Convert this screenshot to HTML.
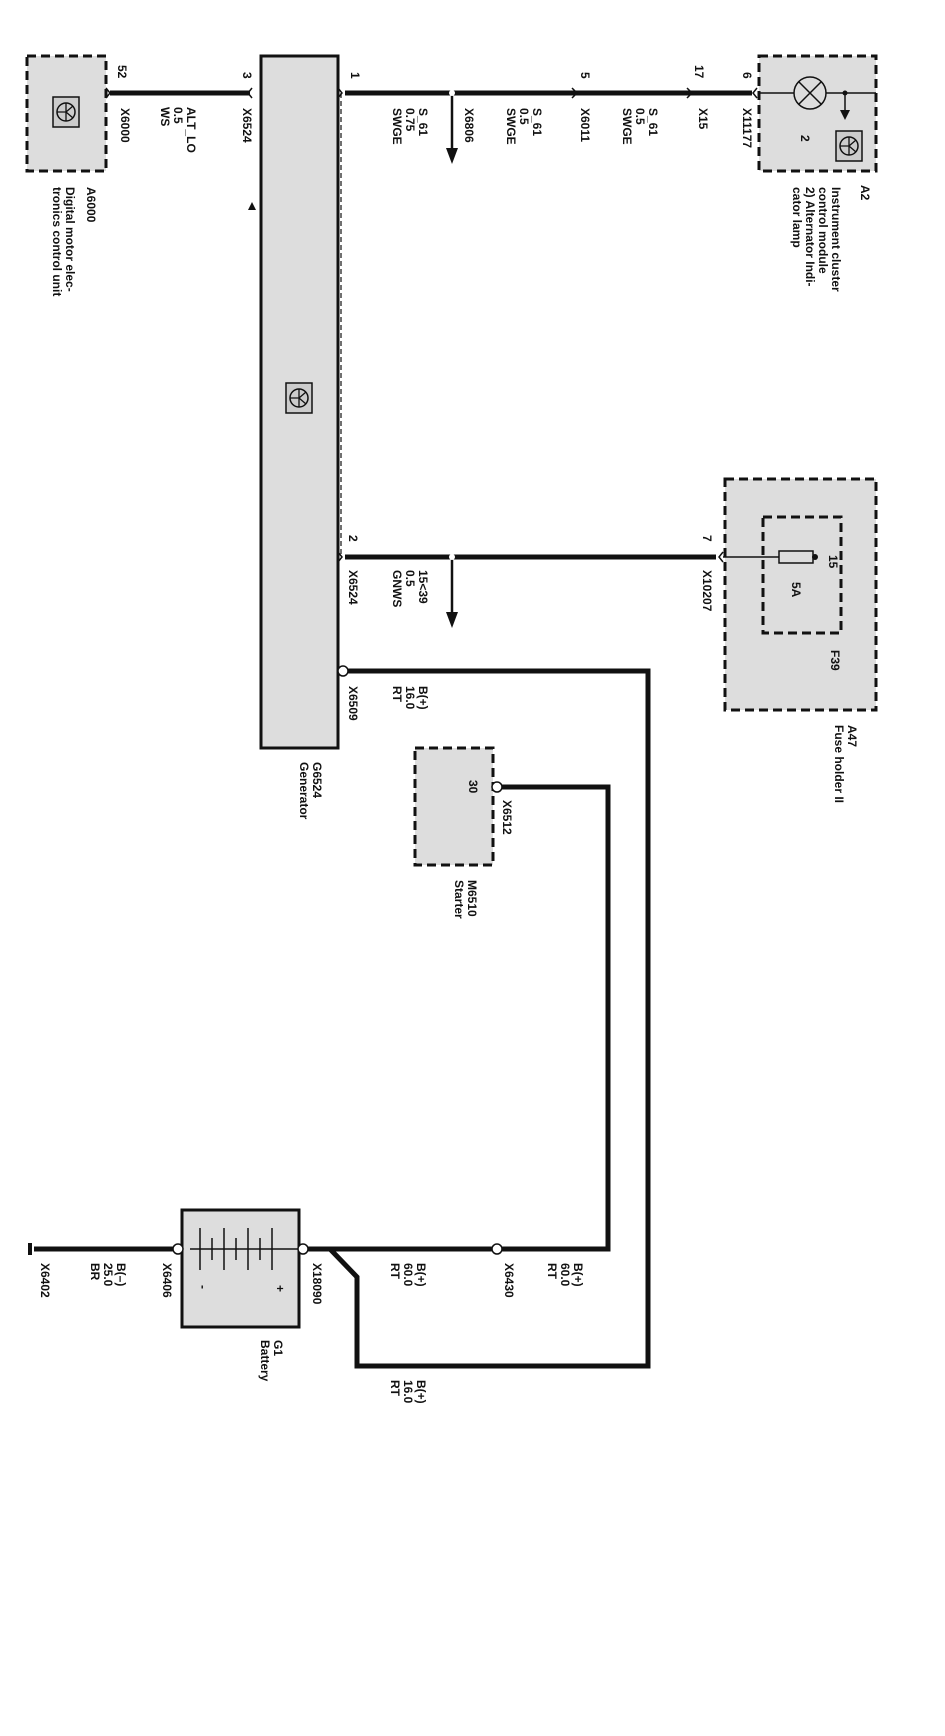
<!DOCTYPE html>
<html><head><meta charset="utf-8"><style>
html,body{margin:0;padding:0;background:#fff}
#c{position:relative;width:945px;height:1736px;overflow:hidden;font-family:"Liberation Sans",Arial,sans-serif;}
.t{position:absolute;writing-mode:vertical-rl;font-size:12px;font-weight:bold;line-height:13px;color:#111;white-space:nowrap}
.n{font-weight:bold}
svg{position:absolute;left:0;top:0}
</style></head><body><div id="c">
<svg width="945" height="1736" viewBox="0 0 945 1736">
<defs>
<g id="ic"><rect x="-13" y="-15" width="26" height="30" fill="#ccc" stroke="#111" stroke-width="1.5"/><circle cx="0" cy="0" r="9" fill="none" stroke="#111" stroke-width="1.5"/><path d="M-9 0H0M0 -9V9M0 0L7 -6M0 0L7 6" stroke="#111" stroke-width="1.3" fill="none"/></g>
</defs>
<g fill="#ddd" stroke="#111" stroke-width="3" stroke-dasharray="9,5">
<rect x="27" y="56" width="79" height="115"/>
<rect x="759" y="56" width="117" height="115"/>
<rect x="725" y="479" width="151" height="231"/>
<rect x="763" y="517" width="78" height="116"/>
<rect x="415" y="748" width="78" height="117"/>
</g>
<rect x="261" y="56" width="77" height="692" fill="#ddd" stroke="#111" stroke-width="3"/>
<rect x="182" y="1210" width="117" height="117" fill="#ddd" stroke="#111" stroke-width="3"/>
<line x1="341" y1="93" x2="341" y2="557" stroke="#111" stroke-width="1.2" stroke-dasharray="5,3"/>
<use href="#ic" x="66" y="112"/><use href="#ic" x="299" y="398"/><use href="#ic" x="849" y="146"/>
<g stroke="#111" stroke-width="5" fill="none">
<line x1="110" y1="93" x2="250" y2="93"/>
<line x1="345" y1="93" x2="752" y2="93"/>
<line x1="345" y1="557" x2="716" y2="557"/>
<polyline points="345,671 648,671 648,1366 357,1366 357,1277 330,1249"/>
<polyline points="500,787 608,787 608,1249 303,1249"/>
<line x1="34" y1="1249" x2="178" y2="1249"/>
</g>
<g stroke="#111" stroke-width="2.5"><line x1="452" y1="93" x2="452" y2="150"/><line x1="452" y1="557" x2="452" y2="614"/></g>
<g fill="#111"><polygon points="446,148 458,148 452,164"/><polygon points="446,612 458,612 452,628"/>
<circle cx="452" cy="93" r="3" fill="#fff"/><circle cx="452" cy="557" r="3" fill="#fff"/>
<rect x="28" y="1243" width="4" height="12"/><polygon points="248,210 256,210 252,202"/></g>
<g fill="#fff" stroke="#111" stroke-width="1.5">
<circle cx="343" cy="671" r="5"/><circle cx="497" cy="787" r="5"/><circle cx="178" cy="1249" r="5"/><circle cx="303" cy="1249" r="5"/><circle cx="497" cy="1249" r="5"/>
</g>
<g stroke="#111" stroke-width="1.5" fill="none">
<path d="M106 88 l4 5 l-4 5"/><path d="M252 88 l-4 5 l4 5"/><path d="M338 88 l4 5 l-4 5"/><path d="M572 88 l5 5 l-5 5"/><path d="M687 88 l5 5 l-5 5"/><path d="M757 88 l-4 5 l4 5"/><path d="M338 552 l4 5 l-4 5"/><path d="M723 552 l-4 5 l4 5"/>
<line x1="759" y1="93" x2="876" y2="93"/><circle cx="810" cy="93" r="16" fill="#ddd"/><path d="M799 82L821 104M821 82L799 104"/>
<line x1="845" y1="93" x2="845" y2="112"/>
<line x1="723" y1="557" x2="812" y2="557"/><rect x="779" y="551" width="34" height="12" fill="#ddd"/>
<line x1="190" y1="1249" x2="298" y2="1249"/>
<path d="M200 1228v42M212 1238v22M224 1228v42M236 1238v22M248 1228v42M260 1238v22M272 1228v42"/>
</g>
<g fill="#111"><polygon points="840,110 850,110 845,120"/><circle cx="845" cy="93" r="2.5"/><circle cx="815" cy="557" r="3"/></g>
</svg>
<div class="t" style="left:115px;top:65px">52</div>
<div class="t n" style="left:118px;top:108px">X6000</div>
<div class="t" style="left:158px;top:107px">ALT_LO<br>0.5<br>WS</div>
<div class="t" style="left:240px;top:72px">3</div>
<div class="t n" style="left:240px;top:108px">X6524</div>
<div class="t" style="left:348px;top:72px">1</div>
<div class="t" style="left:390px;top:108px">S_61<br>0.75<br>SWGE</div>
<div class="t n" style="left:462px;top:108px">X6806</div>
<div class="t" style="left:578px;top:72px">5</div>
<div class="t" style="left:504px;top:108px">S_61<br>0.5<br>SWGE</div>
<div class="t n" style="left:578px;top:108px">X6011</div>
<div class="t" style="left:692px;top:65px">17</div>
<div class="t" style="left:620px;top:108px">S_61<br>0.5<br>SWGE</div>
<div class="t n" style="left:696px;top:108px">X15</div>
<div class="t" style="left:740px;top:72px">6</div>
<div class="t n" style="left:740px;top:108px">X11177</div>
<div class="t" style="left:798px;top:135px">2</div>
<div class="t n" style="left:790px;top:187px">Instrument cluster<br>control module<br>2) Alternator Indi-<br>cator lamp</div>
<div class="t n" style="left:858px;top:185px">A2</div>
<div class="t n" style="left:50px;top:187px">Digital motor elec-<br>tronics control unit</div>
<div class="t n" style="left:84px;top:187px">A6000</div>
<div class="t" style="left:346px;top:535px">2</div>
<div class="t n" style="left:346px;top:570px">X6524</div>
<div class="t" style="left:390px;top:570px">15&lt;39<br>0.5<br>GNWS</div>
<div class="t" style="left:700px;top:535px">7</div>
<div class="t n" style="left:700px;top:570px">X10207</div>
<div class="t" style="left:826px;top:555px">15</div>
<div class="t" style="left:789px;top:582px">5A</div>
<div class="t n" style="left:828px;top:650px">F39</div>
<div class="t" style="left:832px;top:725px">A47<br>Fuse holder II</div>
<div class="t n" style="left:346px;top:686px">X6509</div>
<div class="t" style="left:390px;top:686px">B(+)<br>16.0<br>RT</div>
<div class="t" style="left:297px;top:762px">G6524<br>Generator</div>
<div class="t" style="left:466px;top:780px">30</div>
<div class="t n" style="left:500px;top:800px">X6512</div>
<div class="t" style="left:452px;top:880px">M6510<br>Starter</div>
<div class="t n" style="left:38px;top:1263px">X6402</div>
<div class="t" style="left:88px;top:1263px">B(–)<br>25.0<br>BR</div>
<div class="t n" style="left:160px;top:1263px">X6406</div>
<div class="t" style="left:196px;top:1285px">-</div>
<div class="t" style="left:273px;top:1285px">+</div>
<div class="t n" style="left:310px;top:1263px">X18090</div>
<div class="t" style="left:388px;top:1263px">B(+)<br>60.0<br>RT</div>
<div class="t n" style="left:502px;top:1263px">X6430</div>
<div class="t" style="left:545px;top:1263px">B(+)<br>60.0<br>RT</div>
<div class="t" style="left:258px;top:1340px">G1<br>Battery</div>
<div class="t" style="left:388px;top:1380px">B(+)<br>16.0<br>RT</div>
</div></body></html>
